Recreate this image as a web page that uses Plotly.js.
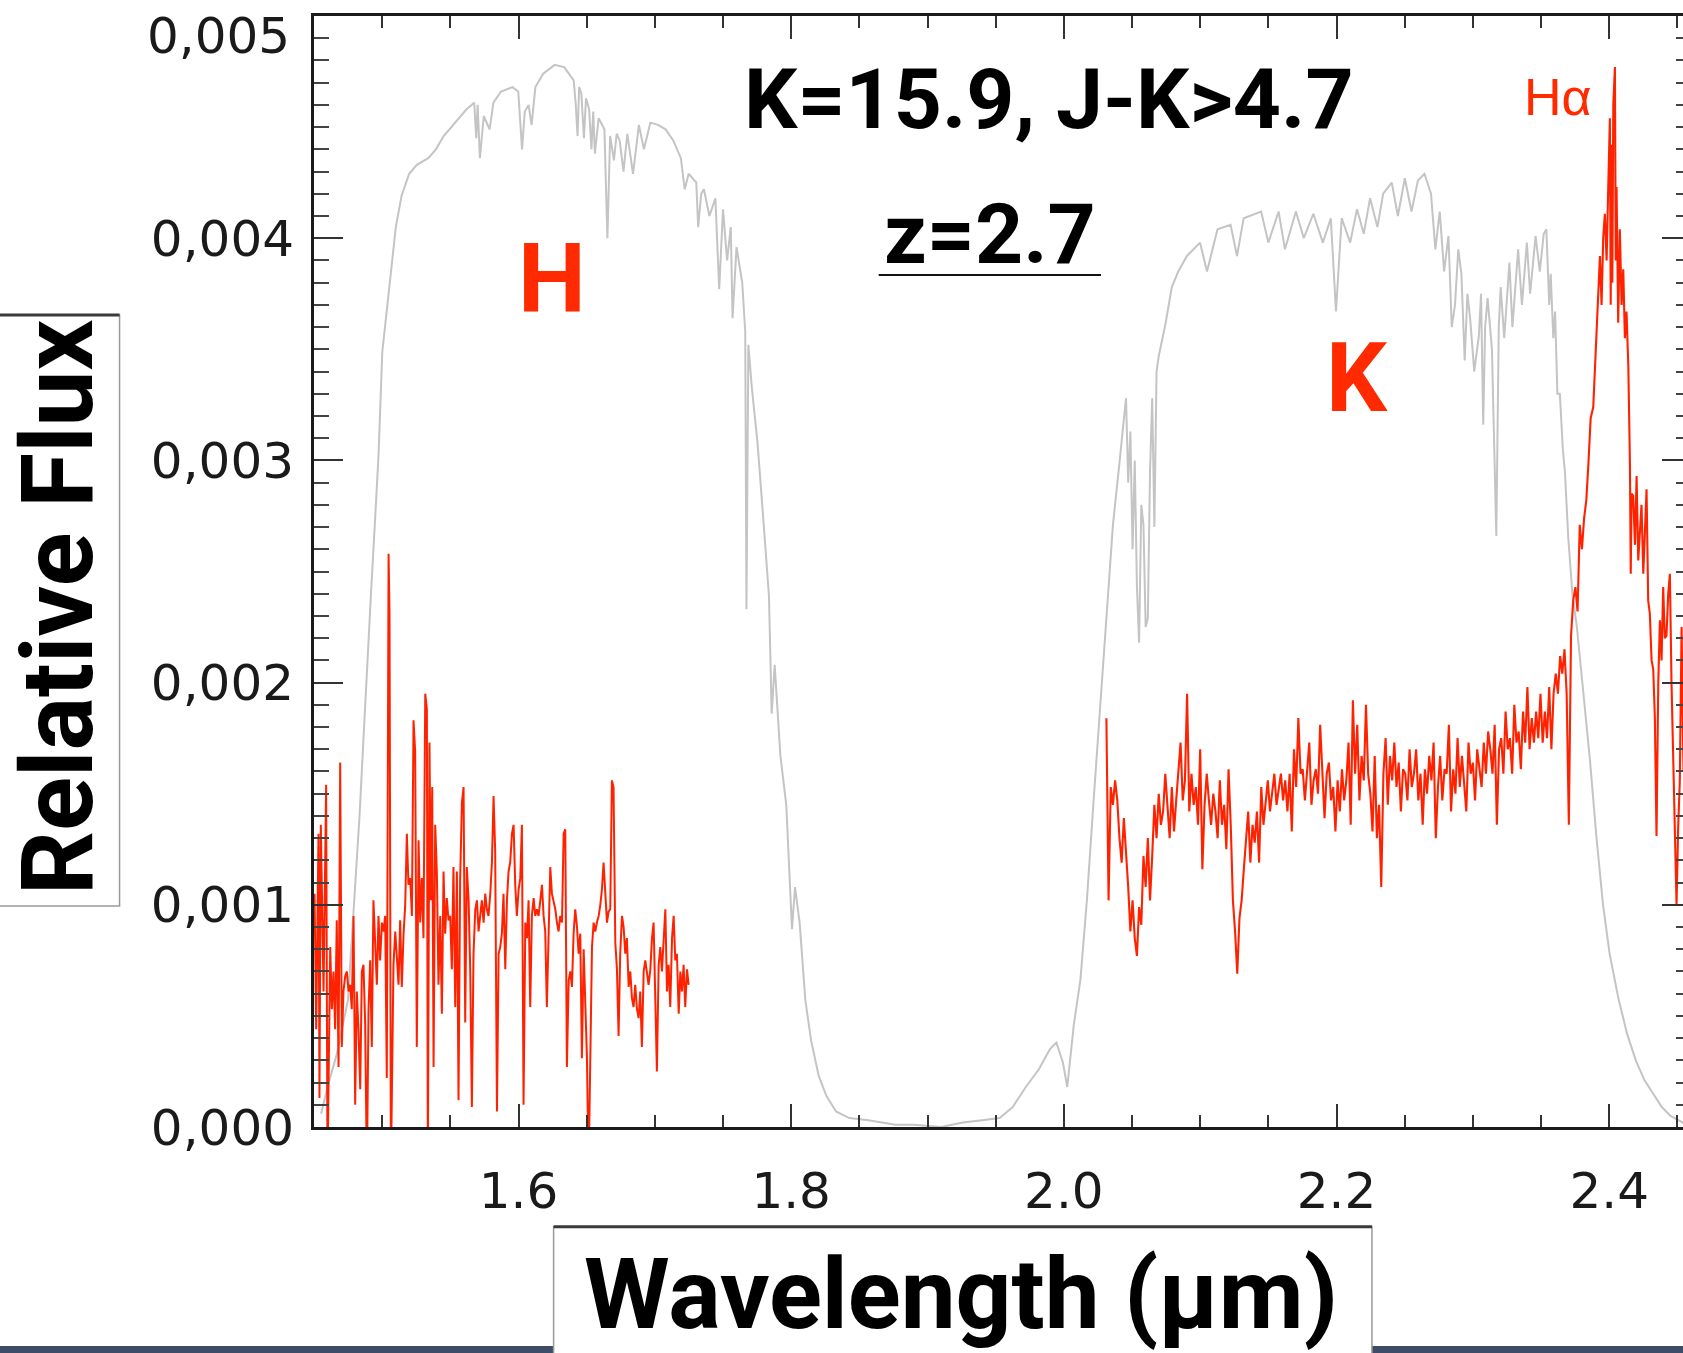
<!DOCTYPE html>
<html><head><meta charset="utf-8">
<script src="https://cdn.plot.ly/plotly-3.0.1.min.js"></script>
<style>html,body{margin:0;padding:0;overflow:hidden;background:#fff}#chart{width:1700px;height:1353px}</style>
</head><body><div id="chart"></div>
<script>
// ---- tick labels ----
const xTickVals = [1.6, 1.8, 2.0, 2.2, 2.4];
const xTickText = ['1.6', '1.8', '2.0', '2.2', '2.4'];
const yTickVals = [0, 0.001, 0.002, 0.003, 0.004];
const yTickText = ['0,000', '0,001', '0,002', '0,003', '0,004'];
const yTopLabel = '0,005';

// ---- filter transmission (grey), wavelength in micron, flux in units of 1e-3 ----
const grayWave = [1.4552,1.4608,1.4664,1.4749,1.4833,1.4875,1.4917,1.4945,1.4973,1.5001,1.5043,1.5072,1.5100,1.5142,1.5198,1.5254,1.5338,1.5394,1.5451,1.5535,1.5619,1.5675,1.5690,1.5700,1.5717,1.5745,1.5788,1.5816,1.5872,1.5956,1.5998,1.6026,1.6046,1.6074,1.6096,1.6124,1.6181,1.6265,1.6335,1.6405,1.6420,1.6433,1.6445,1.6461,1.6480,1.6495,1.6518,1.6535,1.6548,1.6560,1.6588,1.6630,1.6652,1.6672,1.6700,1.6720,1.6742,1.6770,1.6798,1.6840,1.6883,1.6920,1.6967,1.7023,1.7079,1.7135,1.7191,1.7219,1.7248,1.7304,1.7318,1.7340,1.7360,1.7400,1.7444,1.7472,1.7500,1.7530,1.7557,1.7570,1.7599,1.7641,1.7663,1.7672,1.7686,1.7711,1.7753,1.7795,1.7837,1.7857,1.7879,1.7921,1.7964,1.8006,1.8028,1.8062,1.8104,1.8146,1.8202,1.8258,1.8329,1.8427,1.8567,1.8764,1.8899,1.9100,1.9260,1.9400,1.9529,1.9625,1.9721,1.9817,1.9897,1.9945,1.9993,2.0025,2.0073,2.0121,2.0169,2.0216,2.0264,2.0312,2.0360,2.0408,2.0456,2.0472,2.0488,2.0504,2.0520,2.0536,2.0552,2.0568,2.0584,2.0600,2.0616,2.0632,2.0648,2.0664,2.0680,2.0696,2.0744,2.0792,2.0839,2.0903,2.0999,2.1050,2.1127,2.1223,2.1270,2.1319,2.1447,2.1500,2.1575,2.1622,2.1702,2.1760,2.1830,2.1900,2.1958,2.1996,2.2038,2.2100,2.2150,2.2200,2.2246,2.2300,2.2342,2.2405,2.2450,2.2501,2.2550,2.2597,2.2645,2.2693,2.2725,2.2757,2.2789,2.2821,2.2845,2.2869,2.2893,2.2916,2.2940,2.2960,2.2980,2.3010,2.3044,2.3060,2.3076,2.3090,2.3108,2.3140,2.3172,2.3190,2.3204,2.3230,2.3268,2.3290,2.3332,2.3360,2.3396,2.3420,2.3460,2.3491,2.3520,2.3539,2.3560,2.3571,2.3590,2.3603,2.3620,2.3638,2.3660,2.3675,2.3700,2.3730,2.3763,2.3811,2.3859,2.3907,2.3955,2.4003,2.4067,2.4131,2.4195,2.4259,2.4322,2.4386,2.4450,2.4539,2.4600];
const grayFlux = [0.06,0.20,0.32,0.57,1.39,1.92,2.39,2.70,3.02,3.49,3.71,3.89,4.05,4.19,4.29,4.33,4.36,4.40,4.46,4.52,4.58,4.61,4.45,4.60,4.36,4.55,4.49,4.61,4.66,4.68,4.66,4.40,4.57,4.60,4.51,4.68,4.74,4.78,4.77,4.71,4.60,4.46,4.68,4.65,4.45,4.63,4.58,4.40,4.57,4.38,4.54,4.49,4.00,4.46,4.35,4.47,4.44,4.30,4.47,4.29,4.51,4.40,4.52,4.51,4.49,4.44,4.36,4.22,4.29,4.25,4.05,4.20,4.22,4.10,4.18,3.77,4.13,3.90,4.05,3.64,3.96,3.80,3.58,2.33,3.52,3.33,3.08,2.74,2.39,1.86,2.08,1.67,1.45,0.89,1.08,0.92,0.57,0.39,0.23,0.14,0.07,0.04,0.03,0.01,0.01,0.00,0.02,0.03,0.04,0.09,0.18,0.26,0.35,0.38,0.29,0.18,0.46,0.66,1.02,1.45,1.87,2.29,2.71,2.99,3.28,2.90,3.13,2.60,3.00,2.43,2.18,2.80,2.71,2.25,2.29,2.95,3.28,2.70,3.40,3.47,3.61,3.78,3.85,3.92,3.98,3.85,4.04,4.06,3.92,4.09,4.12,3.98,4.12,3.95,4.12,4.00,4.11,3.98,4.09,3.67,4.09,3.98,4.13,4.02,4.18,4.05,4.20,4.25,4.10,4.27,4.12,4.26,4.29,4.20,3.95,4.12,3.85,4.01,3.60,3.70,3.95,3.84,3.45,3.75,3.64,3.40,3.56,3.75,3.16,3.60,3.73,3.50,2.66,3.60,3.78,3.55,3.89,3.60,3.95,3.70,3.98,3.75,4.01,3.85,4.02,4.04,3.70,3.84,3.55,3.67,3.30,3.30,3.05,2.95,2.65,2.40,2.25,1.95,1.65,1.30,1.00,0.78,0.58,0.42,0.30,0.21,0.15,0.09,0.05,0.02,0.01];

// ---- H-band spectrum (red), flux in units of 1e-3 ----
const hRedWave = [1.4504,1.4516,1.4533,1.4540,1.4550,1.4570,1.4589,1.4599,1.4619,1.4631,1.4643,1.4655,1.4667,1.4680,1.4692,1.4704,1.4716,1.4729,1.4741,1.4753,1.4765,1.4777,1.4790,1.4802,1.4814,1.4826,1.4839,1.4851,1.4863,1.4875,1.4888,1.4900,1.4912,1.4924,1.4936,1.4949,1.4961,1.4973,1.4985,1.4998,1.5010,1.5022,1.5034,1.5047,1.5054,1.5064,1.5083,1.5096,1.5108,1.5120,1.5132,1.5144,1.5157,1.5169,1.5181,1.5193,1.5206,1.5218,1.5230,1.5242,1.5254,1.5267,1.5279,1.5291,1.5303,1.5316,1.5328,1.5335,1.5347,1.5357,1.5367,1.5377,1.5389,1.5401,1.5413,1.5426,1.5438,1.5450,1.5462,1.5474,1.5487,1.5499,1.5511,1.5523,1.5536,1.5548,1.5560,1.5572,1.5585,1.5597,1.5609,1.5621,1.5634,1.5646,1.5658,1.5670,1.5683,1.5695,1.5707,1.5719,1.5731,1.5744,1.5756,1.5768,1.5780,1.5793,1.5805,1.5817,1.5829,1.5842,1.5854,1.5866,1.5878,1.5890,1.5903,1.5915,1.5927,1.5939,1.5952,1.5964,1.5976,1.5988,1.6001,1.6013,1.6025,1.6037,1.6050,1.6062,1.6074,1.6086,1.6098,1.6111,1.6123,1.6135,1.6147,1.6160,1.6172,1.6184,1.6196,1.6208,1.6221,1.6233,1.6245,1.6257,1.6270,1.6282,1.6294,1.6306,1.6319,1.6331,1.6343,1.6355,1.6368,1.6380,1.6392,1.6404,1.6416,1.6429,1.6441,1.6453,1.6465,1.6478,1.6490,1.6502,1.6514,1.6527,1.6539,1.6551,1.6563,1.6575,1.6588,1.6600,1.6612,1.6624,1.6637,1.6649,1.6661,1.6673,1.6685,1.6697,1.6710,1.6722,1.6734,1.6746,1.6759,1.6771,1.6783,1.6795,1.6808,1.6820,1.6832,1.6844,1.6856,1.6869,1.6881,1.6893,1.6905,1.6918,1.6930,1.6942,1.6954,1.6967,1.6979,1.6991,1.7003,1.7015,1.7028,1.7040,1.7052,1.7064,1.7077,1.7089,1.7101,1.7113,1.7126,1.7138,1.7150,1.7162,1.7175,1.7187,1.7199,1.7211,1.7223,1.7236,1.7248];
const hRedFlux = [1.05,0.44,1.32,0.13,1.36,0.61,1.54,-0.2,0.81,0.53,0.70,0.44,0.93,0.27,1.64,0.36,0.61,0.68,0.70,0.61,0.64,0.53,0.95,0.10,0.61,0.44,0.17,0.70,0.73,0.47,-0.2,0.53,0.75,0.36,1.02,0.78,0.64,0.95,0.75,0.92,0.88,0.95,0.22,2.58,2.31,-0.2,0.73,0.88,0.78,0.64,0.93,0.63,0.87,1.00,1.32,1.09,1.12,0.95,1.83,1.69,0.36,1.29,0.92,1.12,0.85,1.95,1.88,-0.2,1.73,1.02,1.53,0.27,1.36,1.15,0.64,0.95,0.51,1.15,0.87,1.03,0.93,0.95,0.71,1.17,0.54,1.15,0.12,1.12,1.46,1.53,0.47,1.17,1.02,0.70,0.09,0.78,0.98,1.02,0.88,0.95,1.02,0.92,1.05,0.98,0.95,1.05,1.19,1.49,1.24,0.07,0.78,0.81,0.87,1.05,0.71,1.02,1.15,1.19,1.32,1.36,1.09,0.95,1.07,1.12,1.36,0.10,0.92,0.85,1.02,0.54,0.95,1.03,0.95,0.98,0.95,1.02,1.09,0.95,0.88,0.54,0.81,1.17,1.05,1.02,0.98,0.92,0.88,0.95,0.92,1.32,1.34,0.27,0.66,0.70,0.63,0.87,0.98,0.90,0.78,0.87,0.31,0.80,0.53,0.31,-0.2,0.47,0.81,0.92,0.88,0.92,0.95,1.00,1.07,1.19,1.05,0.92,0.97,0.98,1.56,1.53,0.83,0.71,0.41,0.78,0.95,0.90,0.78,0.85,0.63,0.70,0.58,0.54,0.64,0.53,0.49,0.61,0.36,0.70,0.75,0.68,0.64,0.71,0.85,0.92,0.61,0.25,0.73,0.81,0.70,0.87,0.98,0.61,0.73,0.54,0.85,0.95,0.75,0.78,0.51,0.70,0.61,0.73,0.54,0.71,0.64];

// ---- K-band spectrum continuum (red), flux in units of 1e-3 ----
const kRedWave = [2.0312,2.0328,2.0344,2.0360,2.0376,2.0392,2.0408,2.0424,2.0440,2.0456,2.0472,2.0488,2.0504,2.0520,2.0536,2.0552,2.0568,2.0584,2.0600,2.0616,2.0632,2.0648,2.0664,2.0680,2.0696,2.0712,2.0728,2.0744,2.0760,2.0776,2.0792,2.0808,2.0824,2.0840,2.0856,2.0872,2.0888,2.0904,2.0920,2.0936,2.0952,2.0968,2.0984,2.1000,2.1016,2.1032,2.1048,2.1064,2.1080,2.1096,2.1112,2.1128,2.1144,2.1160,2.1176,2.1192,2.1208,2.1224,2.1240,2.1256,2.1272,2.1288,2.1304,2.1320,2.1336,2.1352,2.1368,2.1384,2.1400,2.1416,2.1432,2.1448,2.1464,2.1480,2.1496,2.1512,2.1528,2.1544,2.1560,2.1576,2.1592,2.1608,2.1624,2.1640,2.1656,2.1672,2.1688,2.1704,2.1720,2.1736,2.1752,2.1768,2.1784,2.1800,2.1816,2.1832,2.1848,2.1864,2.1880,2.1896,2.1912,2.1928,2.1944,2.1960,2.1976,2.1992,2.2008,2.2024,2.2040,2.2056,2.2072,2.2088,2.2104,2.2120,2.2136,2.2152,2.2168,2.2184,2.2200,2.2216,2.2232,2.2248,2.2264,2.2280,2.2296,2.2312,2.2328,2.2344,2.2360,2.2376,2.2392,2.2408,2.2424,2.2440,2.2456,2.2472,2.2488,2.2504,2.2520,2.2536,2.2552,2.2568,2.2584,2.2600,2.2616,2.2632,2.2648,2.2664,2.2680,2.2696,2.2712,2.2728,2.2744,2.2760,2.2776,2.2792,2.2808,2.2824,2.2840,2.2856,2.2872,2.2888,2.2904,2.2920,2.2936,2.2952,2.2968,2.2984,2.3000,2.3016,2.3032,2.3048,2.3064,2.3080,2.3096,2.3112,2.3128,2.3144,2.3160,2.3176,2.3192,2.3208,2.3224,2.3240,2.3256,2.3272,2.3288,2.3304,2.3320,2.3336,2.3352,2.3368,2.3384,2.3400,2.3416,2.3432,2.3448,2.3464,2.3480,2.3496,2.3512,2.3528,2.3544,2.3560,2.3576,2.3592,2.3608,2.3624,2.3640,2.3656,2.3672,2.3688,2.3704,2.3720,2.3736,2.3752,2.3768,2.3784,2.3800,2.3816,2.3832,2.3848,2.3864];
const kRedFlux = [1.84,1.02,1.53,1.45,1.56,1.47,1.30,1.19,1.39,1.25,1.08,0.88,1.02,0.85,0.77,0.99,0.91,1.22,1.08,1.30,1.02,1.22,1.45,1.30,1.50,1.36,1.42,1.59,1.45,1.30,1.53,1.33,1.47,1.59,1.73,1.47,1.56,1.95,1.42,1.59,1.45,1.53,1.36,1.70,1.16,1.45,1.59,1.47,1.36,1.50,1.42,1.30,1.56,1.36,1.45,1.25,1.61,1.36,1.02,0.88,0.69,0.94,1.02,1.16,1.30,1.42,1.19,1.36,1.28,1.42,1.19,1.53,1.36,1.47,1.56,1.42,1.50,1.59,1.45,1.53,1.59,1.47,1.56,1.42,1.59,1.33,1.70,1.53,1.84,1.59,1.61,1.47,1.59,1.73,1.45,1.56,1.61,1.50,1.81,1.59,1.39,1.59,1.64,1.47,1.53,1.33,1.56,1.42,1.61,1.47,1.56,1.73,1.36,1.92,1.59,1.81,1.47,1.67,1.56,1.90,1.59,1.50,1.33,1.67,1.30,1.45,1.08,1.59,1.75,1.45,1.67,1.56,1.73,1.53,1.64,1.42,1.61,1.59,1.47,1.70,1.53,1.59,1.70,1.47,1.59,1.36,1.61,1.50,1.67,1.56,1.73,1.30,1.53,1.67,1.47,1.61,1.59,1.81,1.42,1.61,1.50,1.75,1.53,1.67,1.56,1.42,1.73,1.59,1.64,1.47,1.70,1.61,1.53,1.73,1.59,1.78,1.70,1.59,1.81,1.36,1.70,1.75,1.59,1.87,1.70,1.75,1.59,1.90,1.73,1.78,1.61,1.87,1.73,1.98,1.70,1.84,1.73,1.87,1.75,1.95,1.73,1.87,1.75,1.98,1.70,1.95,2.04,1.95,2.12,2.04,2.15,1.95,1.36,2.21,2.37,2.43,2.32,2.71,2.60,2.74,2.82,2.99,3.19];

// ---- H-alpha line region (red), flux in units of 1e-3 ----
const haWave = [2.3883,2.3908,2.3932,2.3944,2.3956,2.3968,2.3981,2.3993,2.4005,2.4011,2.4017,2.4023,2.4030,2.4042,2.4048,2.4054,2.4066,2.4078,2.4091,2.4103,2.4115,2.4127,2.4140,2.4152,2.4158,2.4164,2.4176,2.4189,2.4201,2.4213,2.4225,2.4237,2.4250,2.4262,2.4274,2.4286,2.4298,2.4311,2.4323,2.4335,2.4347,2.4360,2.4372,2.4384,2.4396,2.4408,2.4420,2.4433,2.4445,2.4457,2.4469,2.4482,2.4494,2.4506,2.4518,2.4531,2.4545,2.4560];
const haFlux = [3.24,3.61,3.92,3.70,4.00,4.11,3.90,4.23,4.54,3.70,4.42,3.80,4.60,4.77,3.90,4.23,3.62,4.04,3.70,3.86,3.55,3.67,3.43,2.99,2.49,2.85,2.84,2.62,2.93,2.55,2.68,2.80,2.49,2.65,2.87,2.37,2.31,2.10,2.06,1.84,1.31,2.00,2.28,2.10,2.43,2.20,2.21,2.40,2.49,2.00,1.66,1.20,1.00,1.35,1.56,2.25,1.60,1.90];

const toFlux = a => a.map(v => v * 1e-3);

const RED = '#ff2200';
const traces = [
  {type:'scatter', mode:'lines', x: grayWave, y: toFlux(grayFlux), line:{color:'#c4c4c4', width:2}, hoverinfo:'skip'},
  {type:'scatter', mode:'lines', x: hRedWave, y: toFlux(hRedFlux), line:{color:RED, width:2}, hoverinfo:'skip'},
  {type:'scatter', mode:'lines', x: kRedWave.concat(haWave), y: toFlux(kRedFlux.concat(haFlux)), line:{color:RED, width:2.1}, hoverinfo:'skip'}
];

const tickFont = {family:'DejaVu Sans', size:50, color:'#1a1a1a'};
const boldFont = (size, color) => ({family:'Roboto', size:size, color:color, weight:700});

const layout = {
  width:1700, height:1353,
  margin:{l:314, r:9, t:16, b:226},
  paper_bgcolor:'#ffffff', plot_bgcolor:'#ffffff',
  showlegend:false, hovermode:false,
  xaxis:{
    range:[1.45, 2.46], tickmode:'array', tickvals:xTickVals, ticktext:xTickText,
    ticks:'inside', ticklen:23, tickwidth:2, tickcolor:'#333',
    showline:true, linecolor:'#1a1a1a', linewidth:3, mirror:'ticks',
    showgrid:false, zeroline:false, tickfont:tickFont, ticklabelstandoff:18,
    minor:{ticks:'inside', ticklen:12, tickwidth:2, tickcolor:'#333', tickmode:'linear', tick0:1.45, dtick:0.05, showgrid:false}
  },
  yaxis:{
    range:[0, 0.005], tickmode:'array', tickvals:yTickVals, ticktext:yTickText,
    ticks:'inside', ticklen:29, tickwidth:2, tickcolor:'#333',
    showline:true, linecolor:'#1a1a1a', linewidth:3, mirror:'ticks',
    showgrid:false, zeroline:false, tickfont:tickFont, ticklabelstandoff:7,
    minor:{ticks:'inside', ticklen:15, tickwidth:2, tickcolor:'#444', tickmode:'linear', tick0:0, dtick:0.0001, showgrid:false}
  },
  shapes:[
    {type:'rect', xref:'paper', yref:'paper', x0:-0.25, x1:1.05, y0:-0.1971, y1:-0.27, fillcolor:'#3e4c66', line:{width:0}},
    {type:'rect', xref:'paper', yref:'paper', x0:0.1740, x1:0.7683, y0:-0.0897, y1:-0.27, fillcolor:'#ffffff', line:{color:'#9a9a9a', width:1.5}},
    {type:'line', xref:'paper', yref:'paper', x0:0.1740, x1:0.7683, y0:-0.0897, y1:-0.0897, line:{color:'#3a3a3a', width:3}},
    {type:'rect', xref:'paper', yref:'paper', x0:-0.25, x1:-0.1412, y0:0.7309, y1:0.1989, fillcolor:'#ffffff', line:{color:'#9a9a9a', width:1.5}},
    {type:'line', xref:'paper', yref:'paper', x0:-0.25, x1:-0.1412, y0:0.7309, y1:0.7309, line:{color:'#3a3a3a', width:3}},
    {type:'line', xref:'paper', yref:'paper', x0:0.4101, x1:0.5715, y0:0.7669, y1:0.7669, line:{color:'#111', width:2}}
  ],
  annotations:[
    {text:'K=15.9, J-K>4.7', xref:'paper', yref:'paper', x:0.5341, y:0.9244, xanchor:'center', yanchor:'middle', showarrow:false, font:boldFont(84,'#000')},
    {text:'z=2.7', xref:'paper', yref:'paper', x:0.4909, y:0.8029, xanchor:'center', yanchor:'middle', showarrow:false, font:boldFont(84,'#000')},
    {text:'H', xref:'paper', yref:'paper', x:0.1728, y:0.7633, xanchor:'center', yanchor:'middle', showarrow:false, font:boldFont(96,'#ff2a00')},
    {text:'K', xref:'paper', yref:'paper', x:0.7578, y:0.6746, xanchor:'center', yanchor:'middle', showarrow:false, font:boldFont(96,'#ff2a00')},
    {text:'Hα', xref:'paper', yref:'paper', x:0.9034, y:0.9275, xanchor:'center', yanchor:'middle', showarrow:false, font:{family:'Liberation Sans', size:52, color:'#ff2a00'}},
    {text:yTopLabel, xref:'paper', yref:'paper', x:-0.0160, y:0.9824, xanchor:'right', yanchor:'middle', showarrow:false, font:tickFont},
    {text:'Relative Flux', xref:'paper', yref:'paper', x:-0.1863, y:0.4685, xanchor:'center', yanchor:'middle', textangle:-90, showarrow:false, font:boldFont(100,'#000')},
    {text:'Wavelength (µm)', xref:'paper', yref:'paper', x:0.4696, y:-0.1508, xanchor:'center', yanchor:'middle', showarrow:false, font:boldFont(98,'#000')}
  ]
};

Plotly.newPlot('chart', traces, layout, {staticPlot:true, displayModeBar:false});
</script></body></html>
